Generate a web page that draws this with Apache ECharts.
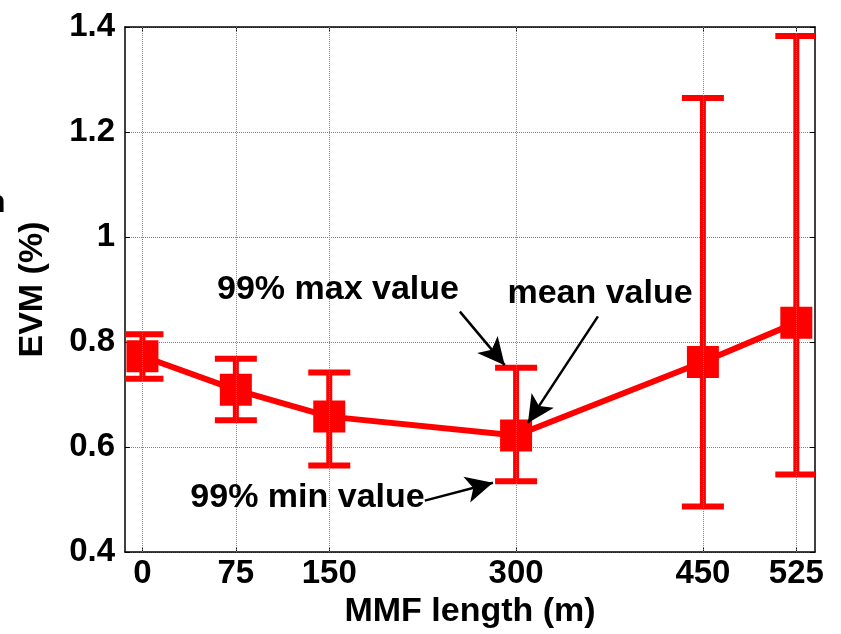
<!DOCTYPE html>
<html>
<head>
<meta charset="utf-8">
<script src="https://cdn.jsdelivr.net/npm/echarts@6/dist/echarts.min.js"></script>
<style>
html,body{margin:0;padding:0;background:#fff;}
#c{width:841px;height:634px;}
</style>
</head>
<body>
<div id="c"></div>
<script>
// ---- data ----
const mmfLength = [0, 75, 150, 300, 450, 525];
const evmMean   = [0.773, 0.709, 0.658, 0.622, 0.762, 0.837];
const evmMax99  = [0.815, 0.768, 0.742, 0.751, 1.265, 1.383];
const evmMin99  = [0.730, 0.651, 0.565, 0.535, 0.487, 0.548];
const xTicks = [0, 75, 150, 300, 450, 525];
const yMin = 0.4, yMax = 1.4, yStep = 0.2;
const xMin = -14, xMax = 540;
// annotation arrows (data coordinates): [fromX, fromY, toX, toY]
const arrowMax  = [254.9, 0.858, 290.9, 0.756];
const arrowMean = [365.7, 0.849, 309.5, 0.646];
const arrowMin  = [226.7, 0.498, 281.4, 0.532];

const FONT = '"Liberation Sans", Arial, Helvetica, sans-serif';
const RED = '#ff0000';

const chart = echarts.init(document.getElementById('c'), null, {renderer: 'canvas'});

function errRender(params, api) {
  const x = api.value(0), lo = api.value(1), hi = api.value(2);
  const t = api.coord([x, hi]);
  const b = api.coord([x, lo]);
  const hw = 21;
  const style = {stroke: RED, lineWidth: 6, fill: null};
  return {
    type: 'group',
    children: [
      {type: 'line', shape: {x1: t[0], y1: t[1], x2: b[0], y2: b[1]}, style: style},
      {type: 'line', shape: {x1: t[0] - hw, y1: t[1], x2: t[0] + hw, y2: t[1]}, style: style},
      {type: 'line', shape: {x1: b[0] - hw, y1: b[1], x2: b[0] + hw, y2: b[1]}, style: style}
    ]
  };
}

const tickFont = {fontFamily: FONT, fontWeight: 'bold', fontSize: 33, color: '#000'};
const titleFont = {fontFamily: FONT, fontWeight: 'bold', fontSize: 34, color: '#000'};

function arrowPair(a) {
  return [{coord: [a[0], a[1]]}, {coord: [a[2], a[3]]}];
}
function annot(text, x, y) {
  return {type: 'text', position: [x, y], z: 10,
    style: {text: text, fontFamily: FONT, fontWeight: 'bold', fontSize: 34, fill: '#000', align: 'center', verticalAlign: 'middle'}};
}

const option = {
  animation: false,
  backgroundColor: '#fff',
  grid: {left: 125, right: 26, top: 27, bottom: 79, containLabel: false},
  xAxis: [
    {
      type: 'value', min: xMin, max: xMax, position: 'bottom',
      name: 'MMF length (m)', nameLocation: 'middle', nameGap: 39,
      nameTextStyle: titleFont,
      axisLine: {show: true, onZero: false, lineStyle: {color: '#000', width: 1.5}},
      axisTick: {show: true, inside: true, length: 5, customValues: xTicks, lineStyle: {color: '#000', width: 1}},
      axisLabel: Object.assign({show: true, margin: 5, customValues: xTicks}, tickFont),
      splitLine: {show: false}
    },
    {
      type: 'value', min: xMin, max: xMax, position: 'top',
      axisLine: {show: true, onZero: false, lineStyle: {color: '#000', width: 1.5}},
      axisTick: {show: true, inside: true, length: 5, customValues: xTicks, lineStyle: {color: '#000', width: 1}},
      axisLabel: {show: false},
      splitLine: {show: false}
    }
  ],
  yAxis: [
    {
      type: 'value', min: yMin, max: yMax, interval: yStep, position: 'left',
      name: 'EVM (%)', nameLocation: 'middle', nameGap: 75,
      nameTextStyle: titleFont,
      axisLine: {show: true, onZero: false, lineStyle: {color: '#000', width: 1.5}},
      axisTick: {show: true, inside: true, length: 5, lineStyle: {color: '#000', width: 1}},
      axisLabel: Object.assign({show: true, margin: 10,
        formatter: function (v) { return String(Math.round(v * 10) / 10); }}, tickFont),
      splitLine: {show: true, lineStyle: {color: '#808080', type: 'dotted', width: 1}}
    },
    {
      type: 'value', min: yMin, max: yMax, interval: yStep, position: 'right',
      axisLine: {show: true, onZero: false, lineStyle: {color: '#000', width: 1.5}},
      axisTick: {show: true, inside: true, length: 5, lineStyle: {color: '#000', width: 1}},
      axisLabel: {show: false},
      splitLine: {show: false}
    }
  ],
  series: [
    {
      // vertical grid lines at the x ticks
      type: 'line', data: [], z: 1, silent: true,
      markLine: {
        silent: true, symbol: ['none', 'none'], animation: false,
        label: {show: false},
        lineStyle: {color: '#808080', type: 'dotted', width: 1},
        data: xTicks.map(function (v) { return {xAxis: v}; })
      }
    },
    {
      type: 'custom', name: '99% range', renderItem: errRender, z: 3, clip: true,
      encode: {x: 0, y: [1, 2]},
      data: mmfLength.map(function (x, i) { return [x, evmMin99[i], evmMax99[i]]; })
    },
    {
      type: 'line', name: 'mean', z: 4,
      data: mmfLength.map(function (x, i) { return [x, evmMean[i]]; }),
      symbol: 'rect', symbolSize: 32, showSymbol: true,
      lineStyle: {color: RED, width: 6},
      itemStyle: {color: RED, borderWidth: 0},
      emphasis: {disabled: true},
      markLine: {
        silent: true, animation: false,
        symbol: ['none', 'arrow'], symbolSize: [20, 27],
        label: {show: false},
        lineStyle: {color: '#000', type: 'solid', width: 2.5},
        data: [arrowPair(arrowMax), arrowPair(arrowMean), arrowPair(arrowMin)]
      }
    }
  ],
  graphic: [
    annot('99% max value', 338, 290),
    annot('mean value', 600, 294),
    annot('99% min value', 307.5, 498),
    {type: 'text', position: [-14, 203], z: 10,
      style: {text: 'n', fontFamily: FONT, fontWeight: 'bold', fontSize: 32, fill: '#000', align: 'left', verticalAlign: 'middle'}}
  ]
};
chart.setOption(option);
</script>
</body>
</html>
